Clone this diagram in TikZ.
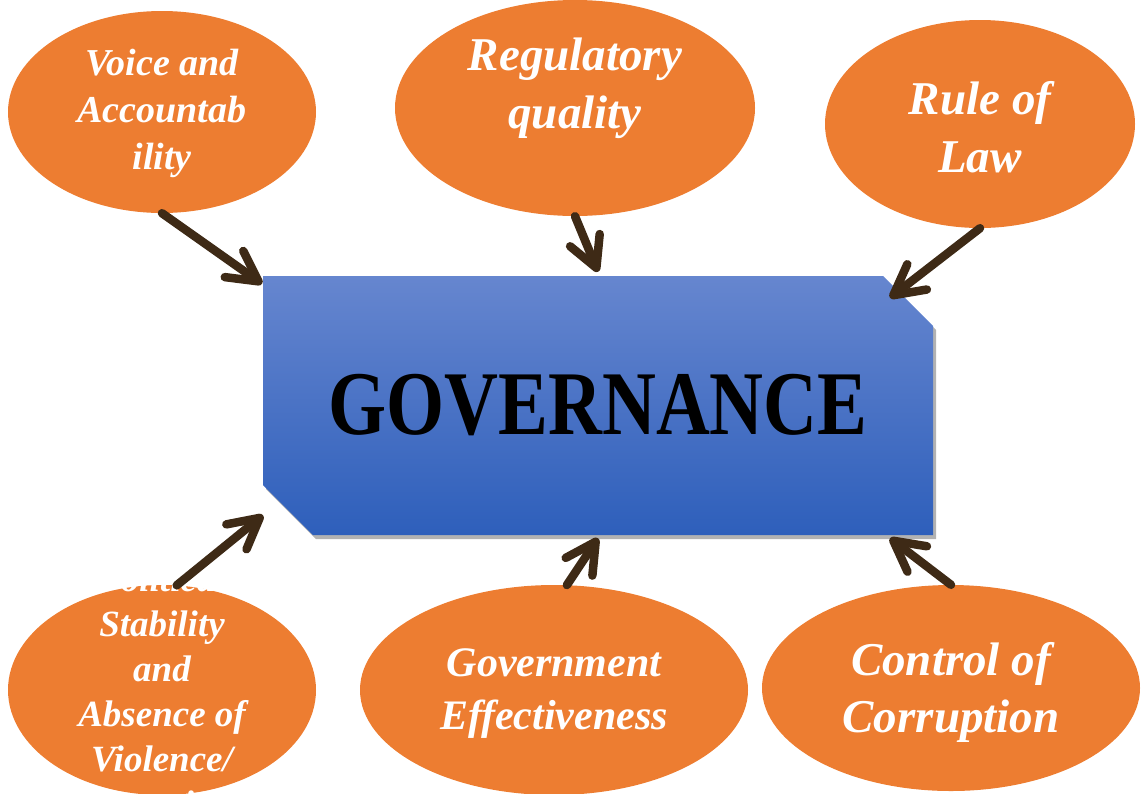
\documentclass[tikz,border=0pt]{standalone}
\usepackage{fontspec}
\setmainfont{Liberation Serif}
\usetikzlibrary{arrows.meta,shapes.geometric,shapes.misc,shadows,calc}
\definecolor{ovalorange}{HTML}{ED7D31}
\definecolor{govtop}{HTML}{6686CF}
\definecolor{govbottom}{HTML}{2E5FBB}
\definecolor{linkbrown}{HTML}{3E2A16}
\newcommand{\fs}[2]{\fontsize{#1}{#2}\selectfont}

\begin{document}
\begin{tikzpicture}[x=1pt, y=-1pt,
    oval/.style={ellipse, fill=ovalorange, inner sep=0pt},
    ovaltext/.style={align=center, text=white, inner sep=0pt},
    govbox/.style={chamfered rectangle, chamfered rectangle corners={north east,south west},
      chamfered rectangle xsep=25pt, chamfered rectangle ysep=25pt,
      minimum width=670pt, minimum height=259pt, inner sep=0pt,
      top color=govtop, bottom color=govbottom,
      drop shadow={shadow xshift=3pt, shadow yshift=-4pt, fill=black, opacity=.3}},
    link/.style={draw=linkbrown, line width=8.5pt, line cap=round,
      -{Straight Barb[length=30pt, width=32pt, round]}}]
  \useasboundingbox (0,0) rectangle (1142,793);
  \clip (0,0) rectangle (1142,793);

  \node[govbox] (gov) at (598,405.5)
    {\scalebox{0.82}[1]{\fs{91}{91}\bfseries GOVERNANCE}};

  % outer ovals
  \node[oval, minimum width=308pt, minimum height=202pt] (voice) at (162,112) {};
  \node[oval, minimum width=360pt, minimum height=216pt] (reg) at (575,108) {};
  \node[oval, minimum width=310pt, minimum height=208pt] (rule) at (980,124) {};
  \node[oval, minimum width=308pt, minimum height=210pt] (pol) at (162,690) {};
  \node[oval, minimum width=388pt, minimum height=210pt] (eff) at (554,690) {};
  \node[oval, minimum width=378pt, minimum height=206pt] (ctrl) at (951,688) {};

  \node[ovaltext, font=\bfseries\itshape\fs{38}{47}] (voicetxt) at (162,113) {Voice and\\Accountab\\ility};
  \node[ovaltext, font=\bfseries\itshape\fs{47}{58}] (regtxt) at (575,88) {Regulatory\\quality};
  \node[ovaltext, font=\bfseries\itshape\fs{47}{58}] (ruletxt) at (980,127) {Rule of\\Law};
  \node[ovaltext, font=\bfseries\itshape\fs{37}{45}] (poltxt) at (162,691) {Political\\Stability\\and\\Absence of\\Violence/\\Terrorism};
  \node[ovaltext, font=\bfseries\itshape\fs{42}{53}] (efftxt) at (554,694) {Government\\Effectiveness};
  \node[ovaltext, font=\bfseries\itshape\fs{47}{57}] (ctrltxt) at (951,692) {Control of\\Corruption};

  % arrows into the box
  \draw[link] (voice.south) -- ($(gov.north)+(-336,8)$);
  \draw[link] (reg.south) -- ($(gov.north)+(0,-4)$);
  \draw[link] (rule.south) -- ($(gov.north)+(292,22)$);
  \draw[link] (pol.82) -- ($(gov.south)+(-335,-20)$);
  \draw[link] (eff.83) -- ($(gov.south)+(0,3)$);
  \draw[link] (ctrl.north) -- ($(gov.south)+(292,3)$);
\end{tikzpicture}
\end{document}
